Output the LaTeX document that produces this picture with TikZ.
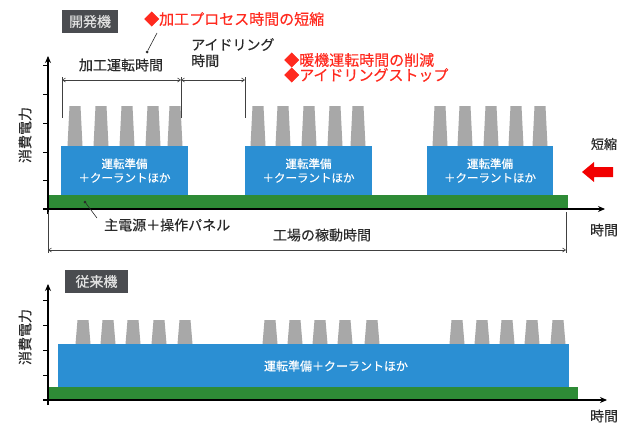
\documentclass[tikz,border=0pt]{standalone}
\usepackage{fontspec}
\setmainfont{Noto Sans CJK JP}
\newfontfamily\jpmed[FakeBold=0.35]{Noto Sans CJK JP}
\usetikzlibrary{arrows.meta}
\definecolor{bluef}{HTML}{2B8FD3}
\definecolor{greenf}{HTML}{2E8B36}
\definecolor{pillarc}{HTML}{A8A8A8}
\definecolor{darkbox}{HTML}{4A4C50}
\definecolor{redt}{HTML}{FF2A1F}
\definecolor{txt}{HTML}{2A2A2A}
\tikzset{
  bluebox/.style={fill=bluef, inner sep=0pt, text=white, align=center, font=\jpmed\fontsize{11.5}{14}\selectfont},
  axis/.style={line width=1.1pt, -{Stealth[length=7pt,width=6pt]}},
  tick/.style={line width=0.8pt},
  dim/.style={draw=black!75, line width=0.6pt},
  dimarr/.style={dim, {Straight Barb[length=3pt,width=4pt]}-{Straight Barb[length=3pt,width=4pt]}},
  lbl/.style={text=txt, inner sep=0pt, font=\jpmed\fontsize{14}{16}\selectfont},
  redlbl/.style={text=redt, inner sep=0pt, anchor=west, font=\jpmed\fontsize{15}{16}\selectfont},
  tagbox/.style={fill=darkbox, text=white!88!black, inner sep=0pt, font=\jpmed\fontsize{14}{16}\selectfont},
  leader/.style={line width=0.6pt, draw=txt},
  dotend/.style={fill=txt, circle, inner sep=0pt, minimum size=3pt}
}
\newcommand{\pillar}[3]{\fill[pillarc] (#1-7.5,#3) -- (#1-5.5,#2) -- (#1+5.5,#2) -- (#1+7.5,#3) -- cycle;}
\begin{document}
\begin{tikzpicture}[x=1pt,y=-1pt]
\useasboundingbox (0,0) rectangle (627,423);
% ===== top chart =====
\node[tagbox, minimum width=56, minimum height=23] (tag1) at (90,21.5) {開発機};
\node[redlbl] (r1) at (144,19) {◆加工プロセス時間の短縮};
\node[redlbl] (r2) at (284,60) {◆暖機運転時間の削減};
\node[redlbl] (r3) at (284,75) {◆アイドリングストップ};
% green bar
\fill[greenf] (49,195) rectangle (568,209);
% pillars
\foreach \c in {75,101,127,153,175,258,283,309,335,358,440,465,491,516,540} {\pillar{\c}{106}{146}}
% blue boxes
\node[bluebox, minimum width=127, minimum height=49] (b1) at (124.5,170.5) {運転準備\\＋クーラントほか};
\node[bluebox, minimum width=127, minimum height=49] (b2) at (308.5,170.5) {運転準備\\＋クーラントほか};
\node[bluebox, minimum width=126, minimum height=49] (b3) at (490,170.5) {運転準備\\＋クーラントほか};
% axes
\coordinate (o1) at (48,214);
\coordinate (yt1) at (48,56);
\coordinate (xe1) at (605,209);
\coordinate (xs1) at (43,209);
\draw[axis] (o1) -- (yt1);
\draw[axis] (xs1) -- (xe1);
\foreach \t in {65,94,123,152,180} {\draw[tick] (43,\t) -- (48,\t);}
\node[lbl, rotate=90] (yl1) at (25,135) {消費電力};
\node[lbl] (xl1) at (604,230) {時間};
% dimension lines top
\coordinate (d1t) at (62,77); \coordinate (d1b) at (62,118);
\coordinate (d2t) at (181,77); \coordinate (d2b) at (181,118);
\coordinate (d3t) at (245,77); \coordinate (d3b) at (245,118);
\draw[dim] (d1t) -- (d1b);
\draw[dim] (d2t) -- (d2b);
\draw[dim] (d3t) -- (d3b);
\draw[dimarr] (62,80) -- (181,80);
\draw[dimarr] (181,80) -- (245,80);
\node[lbl] (kako) at (121,65) {加工運転時間};
\node[lbl, align=left, anchor=north west] (idl) at (191,38) {アイドリング\\時間};
\node[dotend] (dotk) at (147,52) {};
\coordinate (lk) at (157,33);
\draw[leader] (dotk) -- (lk);
% shorten arrow
\node[lbl, font=\jpmed\fontsize{13}{15}\selectfont] (tan) at (604,144) {短縮};
\fill[red!95!black] (582,172) -- (594,162) -- (594,167) -- (613,167) -- (613,177) -- (594,177) -- (594,182) -- cycle;
% below axis
\node[dotend] (dotm) at (85,202) {};
\coordinate (lm) at (97,218);
\draw[leader] (dotm) -- (lm);
\node[lbl, anchor=west] (main) at (104,225) {主電源＋操作パネル};
\coordinate (fl) at (48,212); \coordinate (flb) at (48,253);
\coordinate (fr) at (566,212); \coordinate (frb) at (566,253);
\draw[dim] (fl) -- (flb);
\draw[dim] (fr) -- (frb);
\draw[dimarr] (48,250) -- (566,250);
\node[lbl] (kojo) at (322,235) {工場の稼動時間};
% ===== bottom chart =====
\node[tagbox, minimum width=63, minimum height=23] (tag2) at (96.5,281.5) {従来機};
\fill[greenf] (48,387) rectangle (578,400);
\foreach \c in {83,108,133,159,185,270,295,320,345,372,457,482,507,532,558} {\pillar{\c}{320}{344}}
\node[bluebox, minimum width=511, minimum height=43] (b4) at (313.5,365.5) {};
\node[text=white, inner sep=0pt, font=\jpmed\fontsize{12}{14}\selectfont] (b4t) at (336,366) {運転準備＋クーラントほか};
\coordinate (o2) at (48,405);
\coordinate (yt2) at (48,284);
\coordinate (xs2) at (43,400);
\coordinate (xe2) at (607,400);
\draw[axis] (o2) -- (yt2);
\draw[axis] (xs2) -- (xe2);
\foreach \t in {300,325,350,375} {\draw[tick] (43,\t) -- (48,\t);}
\node[lbl, rotate=90] (yl2) at (25,337) {消費電力};
\node[lbl] (xl2) at (604,416) {時間};
\end{tikzpicture}
\end{document}
